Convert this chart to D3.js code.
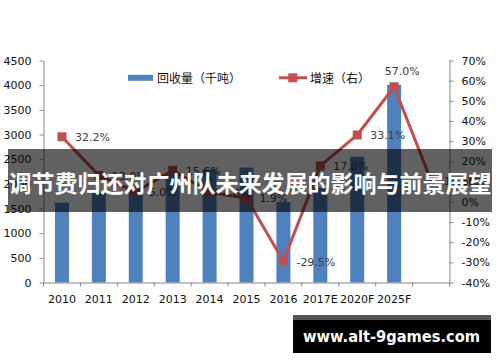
<!DOCTYPE html>
<html>
<head>
<meta charset="utf-8">
<script src="https://cdn.jsdelivr.net/npm/d3@7"></script>
<style>
  body { margin: 0; background: #fff; }
  svg { display: block; }
  .tick text { font-family: "DejaVu Sans", Verdana, sans-serif; font-size: 11px; fill: #111; }
</style>
</head>
<body>
<div id="chart"></div>
<script>
// chart data
const years = ["2010", "2011", "2012", "2013", "2014", "2015", "2016", "2017E", "2020F", "2025F", ""];
const volume = [1620, 1830, 1870, 2200, 2290, 2330, 1630, 1920, 2550, 4010, null];
const growth = [32.2, 13.0, 5.0, 15.6, 4.6, 1.9, -29.5, 17.8, 33.1, 57.0, 10.6];
const leftTicks = [0, 500, 1000, 1500, 2000, 2500, 3000, 3500, 4000, 4500];
const rightTicks = [-40, -30, -20, -10, 0, 10, 20, 30, 40, 50, 60, 70];
const seriesNames = ["回收量（千吨）", "增速（右）"];
const title = "调节费归还对广州队未来发展的影响与前景展望";
const watermark = "www.alt-9games.com";

const W = 500, H = 362;
const MARGIN = { LEFT: 43.5, RIGHT: 50.5, TOP: 60.5, BOTTOM: 79.5 };
const BAR_COLOR = "#4f81bd", LINE_COLOR = "#c0504d", AXIS_COLOR = "#868686";

const svg = d3.select("#chart").append("svg")
    .attr("width", W)
    .attr("height", H);

const x = d3.scaleBand()
    .domain(years)
    .range([MARGIN.LEFT, W - MARGIN.RIGHT]);

const yL = d3.scaleLinear()
    .domain([0, 4500])
    .range([H - MARGIN.BOTTOM, MARGIN.TOP]);

const yR = d3.scaleLinear()
    .domain([-40, 70])
    .range([H - MARGIN.BOTTOM, MARGIN.TOP]);

const barW = 14;
const cx = d => x(d) + x.bandwidth() / 2;

// bars
svg.append("g").selectAll("rect")
    .data(years.map((d, i) => ({ year: d, v: volume[i] })).filter(d => d.v != null))
    .join("rect")
    .attr("x", d => cx(d.year) - barW / 2)
    .attr("width", barW)
    .attr("y", d => yL(d.v))
    .attr("height", d => yL(0) - yL(d.v))
    .attr("fill", BAR_COLOR);

// axes
const leftAxis = svg.append("g")
    .attr("transform", `translate(${MARGIN.LEFT},0)`)
    .call(d3.axisLeft(yL).tickValues(leftTicks).tickFormat(d3.format("d"))
        .tickSize(4).tickSizeOuter(0).tickPadding(8));

const rightAxis = svg.append("g")
    .attr("transform", `translate(${W - MARGIN.RIGHT},0)`)
    .call(d3.axisRight(yR).tickValues(rightTicks).tickFormat(d => d + "%")
        .tickSize(4).tickSizeOuter(0).tickPadding(8));

const bottomAxis = svg.append("g")
    .attr("transform", `translate(0,${H - MARGIN.BOTTOM})`)
    .call(d3.axisBottom(x).tickSize(0).tickSizeOuter(0).tickPadding(13));

// category boundary ticks
bottomAxis.selectAll(".bound")
    .data(years.map(d => x(d)).concat([x.range()[1]]))
    .join("line")
    .attr("class", "bound")
    .attr("x1", d => d).attr("x2", d => d)
    .attr("y1", 0).attr("y2", 4)
    .attr("stroke", AXIS_COLOR);

[leftAxis, rightAxis, bottomAxis].forEach(g => {
    g.selectAll(".domain, .tick line").attr("stroke", AXIS_COLOR);
});

// growth line
const line = d3.line()
    .x((d, i) => cx(years[i]))
    .y(d => yR(d));

svg.append("path")
    .datum(growth)
    .attr("d", line)
    .attr("fill", "none")
    .attr("stroke", LINE_COLOR)
    .attr("stroke-width", 3)
    .attr("stroke-linejoin", "round");

svg.append("g").selectAll("rect")
    .data(growth)
    .join("rect")
    .attr("x", (d, i) => cx(years[i]) - 4.5)
    .attr("y", d => yR(d) - 4.5)
    .attr("width", 9)
    .attr("height", 9)
    .attr("fill", LINE_COLOR);

// data labels (the peak sits above its marker, the rest to the right)
const maxG = d3.max(growth);
svg.append("g").selectAll("text")
    .data(growth)
    .join("text")
    .attr("x", (d, i) => cx(years[i]) + (d === maxG ? 8 : 13))
    .attr("y", d => yR(d) + (d === maxG ? -15 : 1))
    .attr("text-anchor", d => d === maxG ? "middle" : "start")
    .attr("dominant-baseline", "central")
    .style("font-family", "'DejaVu Sans', Verdana, sans-serif")
    .style("font-size", "11px")
    .style("fill", "#404040")
    .text(d => d.toFixed(1) + "%");

// legend
const legend = svg.append("g").attr("transform", "translate(0,77.8)");
legend.append("rect")
    .attr("x", 128).attr("y", -3).attr("width", 25).attr("height", 6)
    .attr("fill", BAR_COLOR);
legend.append("text")
    .attr("x", 157).attr("y", 0)
    .attr("dominant-baseline", "central")
    .style("font-family", "'Noto Sans CJK SC', sans-serif")
    .style("font-size", "12px")
    .style("fill", "#111")
    .text(seriesNames[0]);
legend.append("line")
    .attr("x1", 279).attr("x2", 307).attr("y1", 0).attr("y2", 0)
    .attr("stroke", LINE_COLOR).attr("stroke-width", 3);
legend.append("rect")
    .attr("x", 288.3).attr("y", -4.5).attr("width", 9).attr("height", 9)
    .attr("fill", LINE_COLOR);
legend.append("text")
    .attr("x", 310).attr("y", 0)
    .attr("dominant-baseline", "central")
    .style("font-family", "'Noto Sans CJK SC', sans-serif")
    .style("font-size", "12px")
    .style("fill", "#111")
    .text(seriesNames[1]);

// title banner
svg.append("rect")
    .attr("x", 8).attr("y", 149).attr("width", 484).attr("height", 63)
    .attr("fill", "rgba(0,0,0,0.62)");
svg.append("text")
    .attr("x", 250).attr("y", 182)
    .attr("text-anchor", "middle")
    .attr("dominant-baseline", "central")
    .style("font-family", "'Noto Sans CJK SC', sans-serif")
    .style("font-weight", "bold")
    .style("font-size", "23px")
    .style("fill", "#fff")
    .text(title);

// watermark
svg.append("rect")
    .attr("x", 293).attr("y", 315).attr("width", 198).attr("height", 38)
    .attr("fill", "#000");
svg.append("rect")
    .attr("x", 293).attr("y", 315).attr("width", 198).attr("height", 5)
    .attr("fill", "#555");
svg.append("text")
    .attr("x", 303).attr("y", 336)
    .attr("dominant-baseline", "central")
    .attr("textLength", 177)
    .attr("lengthAdjust", "spacingAndGlyphs")
    .style("font-family", "'DejaVu Sans', Verdana, sans-serif")
    .style("font-weight", "bold")
    .style("font-size", "16px")
    .style("fill", "#fff")
    .text(watermark);
</script>
</body>
</html>
